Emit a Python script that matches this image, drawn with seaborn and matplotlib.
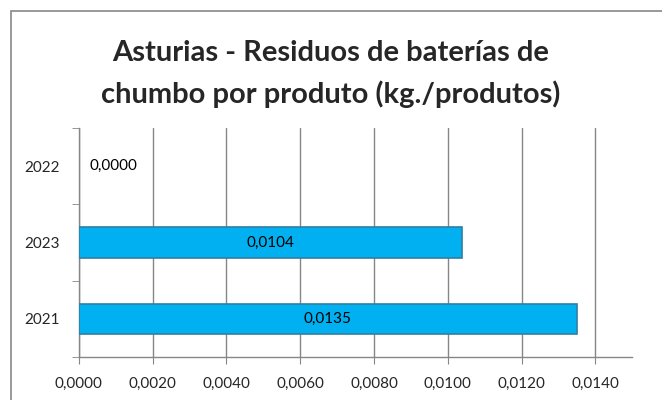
import pandas as pd
import matplotlib.pyplot as plt
import seaborn as sns
from matplotlib.patches import Rectangle
from matplotlib.ticker import FixedLocator

# ====== DATA ======
years = ["2022", "2023", "2021"]
values = [0.0000, 0.0104, 0.0135]
x_ticks = [0.0, 0.002, 0.004, 0.006, 0.008, 0.010, 0.012, 0.014]

title = "Asturias - Residuos de baterías de\nchumbo por produto (kg./produtos)"

df = pd.DataFrame({"ano": years, "valor": values})

# ====== STYLE ======
sns.set_style("white")
plt.rcParams["font.family"] = ["Lato", "DejaVu Sans"]

fig = plt.figure(figsize=(6.62, 4.0), dpi=100)
ax = fig.add_axes([0.119, 0.1075, 0.836, 0.5725])

sns.barplot(data=df, x="valor", y="ano", order=years, orient="h",
            color="#00B0F0", saturation=1, width=0.4,
            edgecolor="#2F7FA3", linewidth=1.2, ax=ax, zorder=3)

# sem contorno na barra de valor zero
for patch, v in zip(ax.patches, values):
    if v == 0:
        patch.set_linewidth(0)

# valores dentro das barras
for i, v in enumerate(values):
    xpos = v / 2 if v > 0 else 0.00093
    ax.text(xpos, i, f"{v:.4f}".replace(".", ","), ha="center", va="center",
            fontsize=11, color="black", zorder=4)

ax.set_xlim(0, 0.015)
ax.set_ylim(2.5, -0.5)
ax.xaxis.set_major_locator(FixedLocator(x_ticks))
ax.set_xticklabels([f"{t:.4f}".replace(".", ",") for t in x_ticks], fontsize=11)
ax.set_yticklabels(years, fontsize=11)
ax.set_xlabel("")
ax.set_ylabel("")

ax.grid(axis="x", color="#868686", linewidth=1.0, zorder=0)
ax.grid(axis="y", visible=False)

for s in ["top", "right"]:
    ax.spines[s].set_visible(False)
for s in ["left", "bottom"]:
    ax.spines[s].set_color("#868686")
    ax.spines[s].set_linewidth(1.0)

ax.tick_params(axis="x", which="major", direction="out", length=5,
               color="#868686", bottom=True, pad=9)
ax.tick_params(axis="y", which="major", length=0, pad=14)
ax.yaxis.set_minor_locator(FixedLocator([-0.5, 0.5, 1.5, 2.5]))
ax.tick_params(axis="y", which="minor", direction="out", length=5,
               color="#868686", left=True)

fig.suptitle(title, fontsize=21, fontweight="bold", y=0.90, linespacing=1.65)

# marco do gráfico
fig.patches.append(Rectangle((11 / 662, -0.05), 1.1, 0.05 + 1 - 11 / 400,
                             transform=fig.transFigure, fill=False,
                             edgecolor="#888888", linewidth=1.2))

plt.savefig("out.png", dpi=100)
plt.close()
